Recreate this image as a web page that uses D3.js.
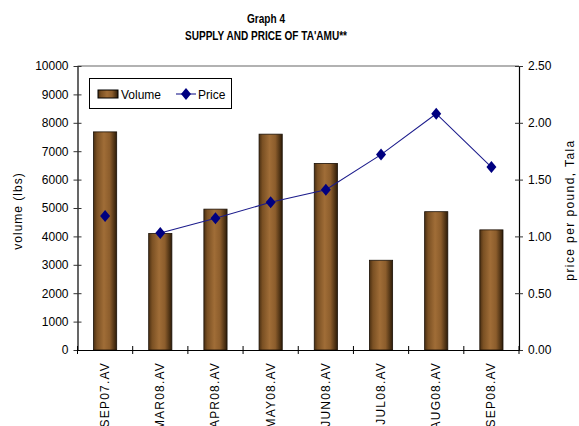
<!DOCTYPE html>
<html><head><meta charset="utf-8">
<script src="https://cdn.jsdelivr.net/npm/d3@7"></script>
<style>
body{margin:0;background:#fff;}
svg text{font-family:"Liberation Sans",Arial,sans-serif;}
</style></head>
<body><svg id="c" width="579" height="426"></svg>
<script>
const categories = ["SEP07.AV","MAR08.AV","APR08.AV","MAY08.AV","JUN08.AV","JUL08.AV","AUG08.AV","SEP08.AV"];
const volume = [7680, 4100, 4960, 7600, 6570, 3160, 4870, 4230];
const price = [1.18, 1.03, 1.16, 1.30, 1.41, 1.72, 2.08, 1.61];
const volumeTicks = [0,1000,2000,3000,4000,5000,6000,7000,8000,9000,10000];
const priceTicks = [0,0.5,1.0,1.5,2.0,2.5];
const titleLines = ["Graph 4","SUPPLY AND PRICE OF TA'AMU**"];

const svg = d3.select("#c");
const L = 77.5, R = 519, T = 66, B = 350;

const x = d3.scaleBand().domain(categories).range([L,R]).paddingInner(0.58).paddingOuter(0.29);
const xb = d3.scaleBand().domain(categories).range([L,R]);
const yL = d3.scaleLinear().domain([0,10000]).range([B,T]);
const yR = d3.scaleLinear().domain([0,2.5]).range([B,T]);

const defs = svg.append("defs");
const g = defs.append("linearGradient").attr("id","bar").attr("x1","0").attr("x2","1").attr("y1","0").attr("y2","0");
[[0,"#4a2f12"],[0.15,"#7a5023"],[0.45,"#a06d37"],[0.7,"#8c5d2c"],[1,"#2e1c08"]].forEach(s=>g.append("stop").attr("offset",s[0]).attr("stop-color",s[1]));

// titles (narrow bold face approximated by compressing)
const titleWidths = [38, 162];
svg.selectAll(".title").data(titleLines).enter().append("text")
  .attr("y",(d,i)=>23+i*17)
  .attr("x",(d,i)=>266-titleWidths[i]/2)
  .attr("textLength",(d,i)=>titleWidths[i]).attr("lengthAdjust","spacingAndGlyphs")
  .style("font-weight","bold").style("font-size","13px").text(d=>d);

// top border
svg.append("line").attr("x1",L).attr("x2",R).attr("y1",T).attr("y2",T).attr("stroke","#999").attr("stroke-width",1.5);

// bars
svg.selectAll(".bar").data(volume).enter().append("rect")
  .attr("x",(d,i)=>x(categories[i])).attr("width",x.bandwidth())
  .attr("y",d=>yL(d)).attr("height",d=>B-yL(d))
  .attr("fill","url(#bar)").attr("stroke","#1a1006").attr("stroke-width",0.8);

// axes
const axL = d3.axisLeft(yL).tickValues(volumeTicks).tickFormat(d3.format("d")).tickSizeInner(4).tickSizeOuter(0).tickPadding(5);
const gL = svg.append("g").attr("transform",`translate(${L},0)`).call(axL);
const axR = d3.axisRight(yR).tickValues(priceTicks).tickFormat(d3.format(".2f")).tickSizeInner(4).tickSizeOuter(0).tickPadding(5);
const gR = svg.append("g").attr("transform",`translate(${R},0)`).call(axR);
const axB = d3.axisBottom(xb).tickSize(0).tickFormat("");
const gB = svg.append("g").attr("transform",`translate(0,${B})`).call(axB);
[gL,gR,gB].forEach(a=>{a.select(".domain").attr("stroke","#000").attr("stroke-width",1.2);a.selectAll("text").style("font-size","12px").attr("fill","#000").style("font-family","'Liberation Sans',Arial,sans-serif");});
gL.selectAll(".tick line").attr("x1",-4).attr("x2",4).attr("stroke","#333");
gR.selectAll(".tick line").attr("x1",-4).attr("x2",4).attr("stroke","#333");
const bounds = categories.map(c=>xb(c)).concat([R]);
svg.selectAll(".xt").data(bounds).enter().append("line")
  .attr("x1",d=>d).attr("x2",d=>d).attr("y1",B-4).attr("y2",B+4).attr("stroke","#000");

// x labels
svg.selectAll(".xl").data(categories).enter().append("text")
  .attr("transform",d=>`translate(${xb(d)+xb.bandwidth()/2+4},${B+12}) rotate(-90)`)
  .attr("text-anchor","end").style("font-size","12px").style("letter-spacing","1.2px").text(d=>d);

// axis titles
svg.append("text").attr("transform","translate(22,211) rotate(-90)").attr("text-anchor","middle")
  .style("font-size","12px").style("letter-spacing","1px").text("volume (lbs)");
svg.append("text").attr("transform","translate(574,210) rotate(-90)").attr("text-anchor","middle")
  .style("font-size","12px").style("letter-spacing","1.4px").text("price per pound, Tala");

// price line (first point is not joined to the second in the reference)
const cx = i => xb(categories[i]) + xb.bandwidth()/2;
const pts = price.map((p,i)=>({i,p}));
const line = d3.line().x(d=>cx(d.i)).y(d=>yR(d.p));
svg.append("path").datum(pts.slice(1)).attr("d",line).attr("fill","none").attr("stroke","#1c1c8c").attr("stroke-width",1.1);
const diamond = "M0,-6L5,0L0,6L-5,0Z";
svg.selectAll(".pm").data(pts).enter().append("path")
  .attr("transform",d=>`translate(${cx(d.i)},${yR(d.p)})`).attr("d",diamond).attr("fill","#000080");

// legend
const lg = svg.append("g");
lg.append("rect").attr("x",89.5).attr("y",78.5).attr("width",142).attr("height",30).attr("fill","#fff").attr("stroke","#000").attr("stroke-width",1);
lg.append("rect").attr("x",98).attr("y",90).attr("width",20).attr("height",8).attr("fill","url(#bar)").attr("stroke","#000");
lg.append("text").attr("x",121).attr("y",99).style("font-size","12px").text("Volume");
lg.append("line").attr("x1",176).attr("x2",196).attr("y1",94).attr("y2",94).attr("stroke","#1c1c8c").attr("stroke-width",1.1);
lg.append("path").attr("transform","translate(186,94)").attr("d",diamond).attr("fill","#000080");
lg.append("text").attr("x",198).attr("y",99).style("font-size","12px").text("Price");
</script></body></html>
